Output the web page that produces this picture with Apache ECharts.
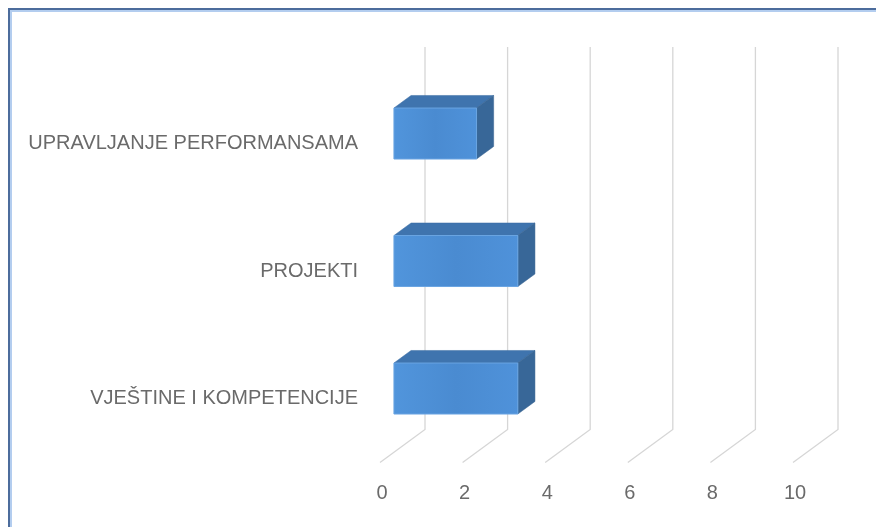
<!DOCTYPE html>
<html>
<head>
<meta charset="utf-8">
<script src="https://cdn.jsdelivr.net/npm/echarts@6/dist/echarts.min.js"></script>
<style>
html,body{margin:0;padding:0;background:#fff;}
#chart{width:876px;height:527px;}
</style>
</head>
<body>
<div id="chart"></div>
<script>
var categories = ['UPRAVLJANJE PERFORMANSAMA', 'PROJEKTI', 'VJEŠTINE I KOMPETENCIJE'];
var values = [2, 3, 3];
var tickValues = [0, 2, 4, 6, 8, 10];

// 3D look: depth offset of the floor (front -> back wall), in pixels
var DX = 45, DY = -33;
var BAR_FRONT = 0.31, BAR_BACK = 0.69, BAR_H = 0.4;

var chart = echarts.init(document.getElementById('chart'));

var barData = values.map(function (v, i) { return [v, i]; });
var gridData = tickValues.map(function (v) { return [v, 0]; });

chart.setOption({
  animation: false,
  backgroundColor: '#ffffff',
  textStyle: { fontFamily: 'Liberation Sans' },
  graphic: [
    { type: 'rect', shape: { x: 9, y: 9, width: 1000, height: 700 }, style: { fill: 'none', stroke: '#4c6c9c', lineWidth: 2 }, silent: true },
    { type: 'rect', shape: { x: 11, y: 11, width: 1000, height: 700 }, style: { fill: 'none', stroke: '#b3cdef', lineWidth: 2 }, silent: true }
  ],
  grid: { left: 380, right: 83, top: 80, bottom: 64.5, containLabel: false },
  xAxis: {
    type: 'value', min: 0, max: 10, interval: 2,
    axisLine: { show: false }, axisTick: { show: false }, splitLine: { show: false },
    axisLabel: { color: '#6a6a6a', fontSize: 20, margin: 21, padding: [0, 0, 0, 4], fontFamily: 'Liberation Sans' }
  },
  yAxis: {
    type: 'category', inverse: true, data: categories,
    axisLine: { show: false }, axisTick: { show: false }, splitLine: { show: false },
    axisLabel: { color: '#6a6a6a', fontSize: 20, margin: 22, fontFamily: 'Liberation Sans' }
  },
  series: [
    {
      type: 'custom',
      clip: false,
      silent: true,
      z: 1,
      encode: { x: 0, y: 1 },
      data: gridData,
      renderItem: function (params, api) {
        var cs = params.coordSys;
        var xf = api.coord([api.value(0), 0])[0];
        var yb = cs.y + cs.height;
        var st = { stroke: '#d6d6d6', lineWidth: 1.3, fill: 'none' };
        return {
          type: 'polyline',
          shape: { points: [[xf + DX, cs.y + DY], [xf + DX, yb + DY], [xf, yb]] },
          style: st
        };
      }
    },
    {
      type: 'custom',
      clip: false,
      z: 2,
      encode: { x: 0, y: 1 },
      data: barData,
      renderItem: function (params, api) {
        var v = api.value(0), c = api.value(1);
        var p0 = api.coord([0, c]);
        var p1 = api.coord([v, c]);
        var band = api.size([0, 1])[1];
        var h = band * BAR_H;
        var fx = DX * BAR_FRONT, fy = DY * BAR_FRONT;
        var dx = DX * (BAR_BACK - BAR_FRONT), dy = DY * (BAR_BACK - BAR_FRONT);
        var x0 = p0[0] + fx, x1 = p1[0] + fx;
        var yc = p0[1] + fy;
        var yt = yc - h / 2, yb = yc + h / 2;
        return {
          type: 'group',
          children: [
            { type: 'polygon', shape: { points: [[x0, yt], [x1, yt], [x1 + dx, yt + dy], [x0 + dx, yt + dy]] },
              style: { fill: '#3f74ae', stroke: '#3a6ca3', lineWidth: 0.5 } },
            { type: 'polygon', shape: { points: [[x1, yt], [x1 + dx, yt + dy], [x1 + dx, yb + dy], [x1, yb]] },
              style: { fill: '#386798', stroke: '#34618f', lineWidth: 0.5 } },
            { type: 'rect', shape: { x: x0, y: yt, width: x1 - x0, height: h },
              style: {
                fill: new echarts.graphic.LinearGradient(0, 0, 1, 0, [
                  { offset: 0, color: '#5195dc' },
                  { offset: 0.5, color: '#4a8bd1' },
                  { offset: 1, color: '#4f92da' }
                ]),
                stroke: '#6aa5e2', lineWidth: 1
              } }
          ]
        };
      }
    }
  ]
});
</script>
</body>
</html>
